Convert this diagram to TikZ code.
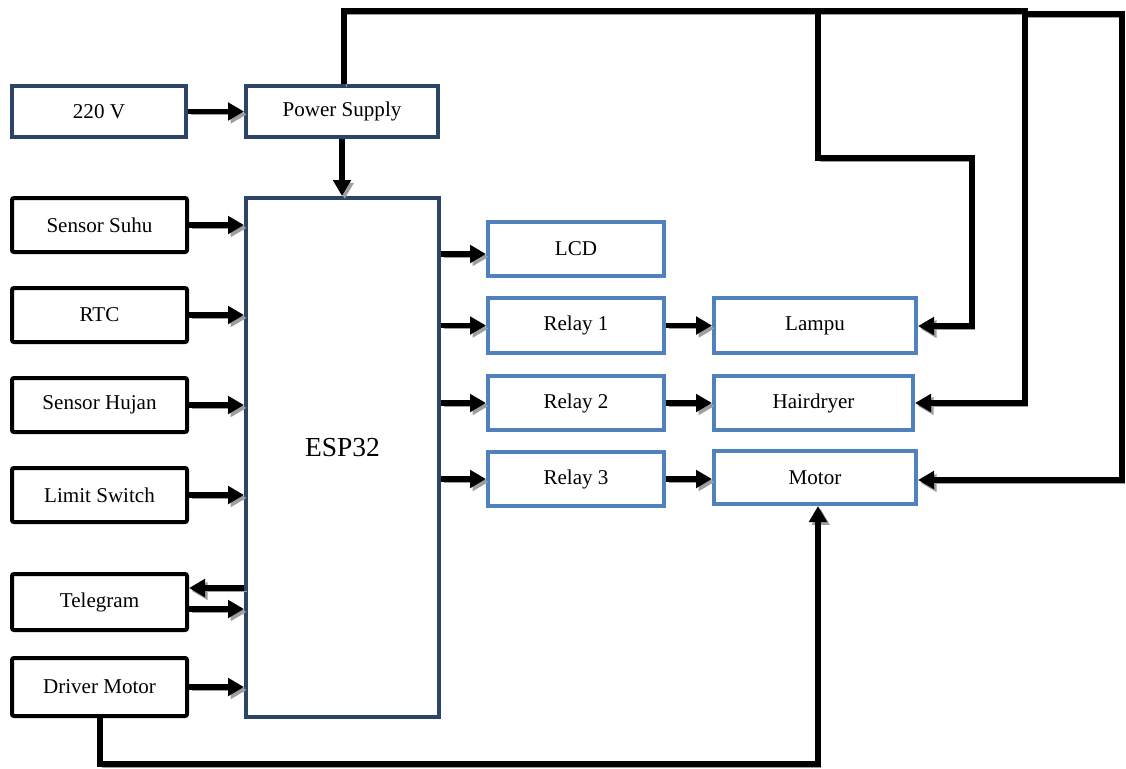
\documentclass[tikz,border=0pt]{standalone}
\usepackage{fontspec}
\setmainfont{Liberation Serif}
\usetikzlibrary{arrows.meta,calc}
\definecolor{navy}{HTML}{2B4468}
\definecolor{lblue}{HTML}{4F81BD}
\begin{document}
\begin{tikzpicture}[x=0.75pt,y=-0.75pt,
  every node/.style={font=\fontsize{15.8}{19}\selectfont, inner sep=0pt},
  navybox/.style={draw=navy, line width=3pt, fill=white},
  blackbox/.style={draw=black, line width=3pt, rounded corners=1.5pt, fill=white},
  bluebox/.style={draw=lblue, line width=3pt, fill=white},
  shad/.style={preaction={draw=black!38, transform canvas={shift={(2pt,-2.2pt)}}}},
  wire/.style={draw=black, line width=3.8pt, shad},
  arr/.style={wire, -{Triangle[length=12pt,width=13pt]}}
]
\useasboundingbox (0,0) rectangle (1126,768);

% boxes
\node[navybox, minimum width=174*0.75pt, minimum height=51*0.75pt] (v220) at (99,111.5) {220 V};
\node[navybox, minimum width=192*0.75pt, minimum height=51*0.75pt] (psu) at (342,111.5) {Power Supply};
\node[blackbox, minimum width=175*0.75pt, minimum height=54*0.75pt] (suhu) at (99.5,225) {Sensor Suhu};
\node[blackbox, minimum width=175*0.75pt, minimum height=54*0.75pt] (rtc) at (99.5,315) {RTC};
\node[blackbox, minimum width=175*0.75pt, minimum height=54*0.75pt] (hujan) at (99.5,405) {Sensor Hujan};
\node[blackbox, minimum width=175*0.75pt, minimum height=54*0.75pt] (limit) at (99.5,495) {Limit Switch};
\node[blackbox, minimum width=175*0.75pt, minimum height=56*0.75pt] (tele) at (99.5,602) {Telegram};
\node[blackbox, minimum width=175*0.75pt, minimum height=58*0.75pt] (drv) at (99.5,687) {Driver Motor};
\node[navybox, minimum width=193*0.75pt, minimum height=519*0.75pt] (esp) at (342.5,457.5) {};
\node[font=\fontsize{20.6}{24}\selectfont] (esplabel) at ($(esp.center)+(0,-10)$) {ESP32};
\node[bluebox, minimum width=176*0.75pt, minimum height=54*0.75pt] (lcd) at (576,249) {LCD};
\node[bluebox, minimum width=176*0.75pt, minimum height=55*0.75pt] (r1) at (576,325.5) {Relay 1};
\node[bluebox, minimum width=176*0.75pt, minimum height=54*0.75pt] (r2) at (576,403) {Relay 2};
\node[bluebox, minimum width=176*0.75pt, minimum height=54*0.75pt] (r3) at (576,479) {Relay 3};
\node[bluebox, minimum width=202*0.75pt, minimum height=55*0.75pt] (lampu) at (815,325.5) {Lampu};
\node[bluebox, minimum width=199*0.75pt, minimum height=54*0.75pt] (hair) at (813.5,403) {Hairdryer};
\node[bluebox, minimum width=202*0.75pt, minimum height=53*0.75pt] (motor) at (815,477.5) {Motor};

% coordinates for wire routing
\coordinate (ptop) at (344,11);
\coordinate (tr) at (1025,11);
\coordinate (lb) at (818,11);
\coordinate (lc1) at (818,158);
\coordinate (lc2) at (972,158);
\coordinate (lc3) at (972,326);
\coordinate (mb) at (1025,14);
\coordinate (mc1) at (1122,14);
\coordinate (mc2) at (1122,480);
\coordinate (dc1) at (100,764);
\coordinate (dc2) at (818,764);

% connectors
\draw[arr] (v220.east) -- (psu.west);
\draw[arr] (psu.south) -- (esp.north -| psu.south);
\draw[arr] (suhu.east) -- (esp.west |- suhu.east);
\draw[arr] (rtc.east) -- (esp.west |- rtc.east);
\draw[arr] (hujan.east) -- (esp.west |- hujan.east);
\draw[arr] (limit.east) -- (esp.west |- limit.east);
\draw[arr] (esp.west |- 0,588) -- (tele.east |- 0,588);
\draw[arr] (tele.east |- 0,609) -- (esp.west |- 0,609);
\draw[arr] (drv.east) -- (esp.west |- drv.east);
\draw[arr] (esp.east |- 0,254) -- (lcd.west |- 0,254);
\draw[arr] (esp.east |- r1.west) -- (r1.west);
\draw[arr] (esp.east |- r2.west) -- (r2.west);
\draw[arr] (esp.east |- r3.west) -- (r3.west);
\draw[arr] (r1.east) -- (lampu.west);
\draw[arr] (r2.east) -- (hair.west);
\draw[arr] (r3.east) -- (motor.west |- r3.east);

\draw[arr] (psu.north -| ptop) -- (ptop) -- (tr) -- (tr |- hair.east) -- (hair.east);
\draw[arr] (lb) -- (lc1) -- (lc2) -- (lc3) -- (lampu.east |- lc3);
\draw[arr] (mb) -- (mc1) -- (mc2) -- (motor.east |- mc2);
\draw[arr] (drv.south -| dc1) -- (dc1) -- (dc2) -- (motor.south -| dc2);
\end{tikzpicture}
\end{document}
